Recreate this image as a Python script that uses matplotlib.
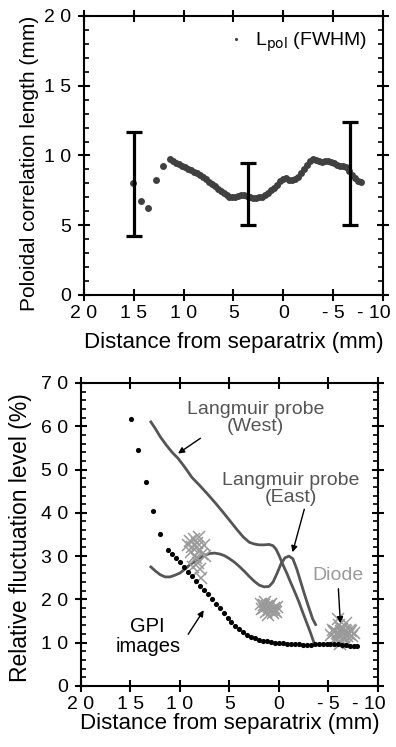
import matplotlib
matplotlib.use("Agg")
import matplotlib.pyplot as plt
from matplotlib.ticker import MultipleLocator, FixedLocator
from matplotlib.transforms import ScaledTranslation

plt.rcParams["font.family"] = ["Liberation Sans", "DejaVu Sans"]

# ---- top panel: poloidal correlation length ----
lpol_x = [15.05, 14.3, 13.55, 12.78, 12.04,
          11.4, 11.1, 10.8, 10.5, 10.2, 9.9, 9.6, 9.3, 9.0, 8.7, 8.4, 8.1, 7.8,
          7.5, 7.2, 6.9, 6.6, 6.3, 6.0, 5.7, 5.4, 5.1, 4.8, 4.5, 4.2, 3.9, 3.6,
          3.3, 3.0, 2.7, 2.4, 2.1, 1.8, 1.5, 1.2, 0.9, 0.6, 0.3, 0.0, -0.3, -0.6,
          -0.9, -1.2, -1.5, -1.8, -2.1, -2.4, -2.7, -3.0, -3.3, -3.6, -3.9, -4.2,
          -4.5, -4.8, -5.1, -5.4, -5.7, -6.0, -6.3, -6.6, -6.9, -7.2, -7.5, -7.8]
lpol_y = [8.0, 6.74, 6.26, 8.22, 9.22,
          9.72, 9.60, 9.48, 9.36, 9.26, 9.15, 9.05, 8.95, 8.84, 8.72, 8.58, 8.44,
          8.30, 8.13, 7.96, 7.78, 7.60, 7.45, 7.30, 7.17, 7.05, 7.00, 7.02, 7.10,
          7.16, 7.18, 7.12, 7.00, 6.94, 6.98, 7.02, 7.05, 7.15, 7.30, 7.50, 7.70,
          7.92, 8.15, 8.35, 8.40, 8.25, 8.22, 8.30, 8.45, 8.75, 9.05, 9.35, 9.60,
          9.72, 9.68, 9.58, 9.55, 9.60, 9.58, 9.55, 9.45, 9.32, 9.28, 9.25, 9.15,
          8.90, 8.62, 8.40, 8.20, 8.10]

err_x = [15.0, 3.5, -6.7]
err_lo = [4.2, 5.0, 5.0]
err_hi = [11.7, 9.45, 12.4]

# ---- bottom panel: relative fluctuation level ----
gpi_x = [14.96, 14.22, 13.48, 12.71, 11.97, 11.2,
         10.8, 10.4, 10.0, 9.6, 9.2, 8.8, 8.4, 8.0, 7.6, 7.2, 6.8, 6.4, 6.0, 5.6,
         5.2, 4.8, 4.4, 4.0, 3.6, 3.2, 2.8, 2.4, 2.0, 1.6, 1.2, 0.8, 0.4, 0.0,
         -0.4, -0.8, -1.2, -1.6, -2.0, -2.4, -2.8, -3.2, -3.6, -4.0, -4.4, -4.8,
         -5.2, -5.6, -6.0, -6.4, -6.8, -7.2, -7.6, -7.9]
gpi_y = [61.6, 54.6, 47.1, 40.4, 35.2, 31.3,
         30.4, 29.6, 28.6, 27.5, 26.4, 25.3, 24.2, 23.2, 22.2, 21.2, 20.1, 19.0,
         17.9, 16.8, 15.8, 14.8, 13.9, 13.1, 12.4, 11.8, 11.3, 11.0, 10.7, 10.5,
         10.3, 10.1, 10.0, 9.9, 9.9, 9.8, 9.8, 9.7, 9.6, 9.5, 9.4, 9.5, 9.6, 9.6,
         9.7, 9.8, 9.8, 9.7, 9.6, 9.5, 9.4, 9.3, 9.2, 9.2]

west_x = [12.94, 12.5, 12.0, 11.4, 10.8, 10.2, 9.5, 8.8, 8.0, 7.2, 6.4, 5.6,
          4.9, 4.2, 3.6, 3.0, 2.5, 2.0, 1.5, 1.0, 0.6, 0.3, 0.0, -0.4, -0.8,
          -1.2, -1.6, -2.0, -2.4, -2.8, -3.2, -3.5]
west_y = [61.0, 59.5, 57.6, 55.7, 54.0, 52.6, 50.5, 48.2, 46.3, 44.3, 42.2,
          40.0, 38.0, 36.0, 34.4, 33.2, 32.8, 32.6, 32.6, 32.7, 32.4, 31.6,
          30.2, 28.0, 26.0, 23.8, 21.7, 19.5, 17.0, 14.6, 12.2, 10.2]

east_x = [12.94, 12.5, 12.0, 11.5, 11.0, 10.5, 10.0, 9.5, 9.0, 8.5, 8.0, 7.5,
          7.0, 6.5, 6.0, 5.5, 5.0, 4.5, 4.0, 3.5, 3.0, 2.5, 2.0, 1.5, 1.0, 0.6,
          0.2, -0.2, -0.6, -1.0, -1.4, -1.8, -2.2, -2.6, -3.0, -3.4, -3.7]
east_y = [27.5, 26.6, 25.7, 25.2, 25.2, 25.6, 26.1, 27.0, 28.0, 28.8, 29.6,
          30.2, 30.6, 30.7, 30.5, 30.1, 29.4, 28.6, 27.6, 26.5, 25.3, 24.2,
          23.3, 22.9, 23.0, 24.0, 26.0, 28.2, 29.6, 30.0, 29.4, 27.0, 24.0,
          21.0, 18.2, 15.5, 14.2]

diode_x = [9.0, 8.6, 8.8, 8.3, 8.0, 7.8, 8.5, 7.6, 8.2, 8.7, 8.0, 7.9, 8.4,
           9.2, 7.5, 8.1, 8.9, 8.3,
           1.8, 1.5, 1.2, 1.0, 0.8, 1.4, 0.5, 0.3, 1.1, 1.7, 0.9, 0.6, 0.2, 1.3,
           1.0, 0.7, 1.5, 0.4,
           -5.5, -6.0, -6.3, -6.6, -6.9, -7.2, -5.8, -6.4, -6.8, -7.4, -6.1,
           -5.3, -6.5, -7.0, -6.2, -5.7, -6.7, -7.6, -6.0, -6.3, -6.6, -5.9,
           -7.1, -6.4, -6.8, -6.2, -5.6, -7.3]
diode_y = [33.5, 34.0, 32.0, 33.0, 31.5, 30.5, 30.0, 32.5, 28.5, 27.5, 27.0,
           25.0, 29.5, 32.5, 30.0, 34.5, 31.0, 32.2,
           19.0, 18.0, 18.5, 17.5, 19.0, 19.5, 18.0, 17.0, 16.5, 17.8, 18.8,
           16.8, 18.3, 17.0, 18.2, 17.6, 18.6, 17.4,
           13.0, 12.0, 13.5, 12.5, 11.5, 13.0, 11.0, 10.5, 14.5, 11.5, 14.0,
           11.8, 12.0, 10.0, 9.8, 12.8, 13.0, 12.3, 15.5, 12.6, 11.2, 12.2,
           12.0, 13.2, 12.8, 11.6, 12.4, 12.7]

x_ticks = [20, 15, 10, 5, 0, -5, -10]
x_ticklabels = ["2 0", "1 5", "1 0", "5", "0", "- 5", "- 10"]
LINE_GRAY = "#555555"
DIODE_GRAY = "#9a9a9a"


def spaced(v):
    # the original tick labels are set with wide letter spacing
    return " ".join(str(v))


def style_axes(fig, ax, yticks, yminor, xlabelpad):
    ax.set_xlim(20, -10)
    ax.xaxis.set_major_locator(FixedLocator(x_ticks))
    ax.set_xticklabels(x_ticklabels)
    ax.set_yticks(yticks)
    ax.set_yticklabels([spaced(t) for t in yticks])
    ax.yaxis.set_minor_locator(MultipleLocator(yminor))
    ax.tick_params(which="major", direction="inout", length=9, width=1.5,
                   top=True, right=True, labelsize=14)
    ax.tick_params(axis="x", which="major", pad=3)
    ax.tick_params(axis="y", which="major", pad=5)
    ax.tick_params(which="minor", direction="in", length=3.5, width=1.2,
                   left=True, right=True)
    for s in ax.spines.values():
        s.set_linewidth(1.5)
    ax.set_xlabel("Distance from separatrix (mm)", fontsize=16,
                  labelpad=xlabelpad)
    # last label sits a little left of its tick so it stays inside the page
    lab = ax.xaxis.get_major_ticks()[-1].label1
    lab.set_transform(lab.get_transform()
                      + ScaledTranslation(-9 / 100, 0, fig.dpi_scale_trans))


fig = plt.figure(figsize=(3.96, 7.47), dpi=100)
ax1 = fig.add_axes([0.2121, 0.6051, 0.755, 0.3735])
ax2 = fig.add_axes([0.2045, 0.0817, 0.75, 0.4056])

# top panel
ax1.plot(lpol_x, lpol_y, "o", color="#404040", ms=5.0, mec="none",
         label=r"L$_{\mathrm{pol}}$ (FWHM)")
err_mid = [(lo + hi) / 2 for lo, hi in zip(err_lo, err_hi)]
err_half = [(hi - lo) / 2 for lo, hi in zip(err_lo, err_hi)]
ax1.errorbar(err_x, err_mid, yerr=err_half, fmt="none", ecolor="black",
             elinewidth=2.3, capsize=5.5, capthick=2.3)
ax1.set_ylim(0, 20)
style_axes(fig, ax1, [0, 5, 10, 15, 20], 1, 7)
ax1.set_ylabel("Poloidal correlation length (mm)", fontsize=15)
ax1.yaxis.set_label_coords(-0.15, 0.47)
ax1.legend(loc="upper right", frameon=False, fontsize=14, markerscale=0.45,
           handlelength=0.8, handletextpad=0.6, borderaxespad=0,
           bbox_to_anchor=(0.975, 0.975))

# bottom panel
ax2.plot(west_x, west_y, color=LINE_GRAY, lw=2)
ax2.plot(east_x, east_y, color=LINE_GRAY, lw=2)
ax2.plot(diode_x, diode_y, "x", color=DIODE_GRAY, ms=8, mew=1.1)
ax2.plot(gpi_x, gpi_y, "o", color="black", ms=3.7, mec="none")
ax2.set_ylim(0, 70)
style_axes(fig, ax2, [0, 10, 20, 30, 40, 50, 60, 70], 2, 0)
ax2.set_ylabel("Relative fluctuation level (%)", fontsize=16.5)
ax2.yaxis.set_label_coords(-0.165, 0.49)

arrow = dict(arrowstyle="-|>", color="black", lw=1, mutation_scale=9,
             shrinkA=0, shrinkB=0)
ax2.annotate("Langmuir probe\n(West)", xy=(10.2, 53.7), xytext=(2.4, 61.8),
             ha="center", va="center", fontsize=14, color=LINE_GRAY,
             linespacing=1.0, arrowprops=dict(arrow, relpos=(0.24, 0.3)))
ax2.annotate("Langmuir probe\n(East)", xy=(-1.37, 30.9), xytext=(-1.2, 45.4),
             ha="center", va="center", fontsize=14, color=LINE_GRAY,
             linespacing=1.0, arrowprops=dict(arrow, relpos=(0.6, -0.05)))
ax2.annotate("Diode", xy=(-6.2, 14.5), xytext=(-6.0, 25.6),
             ha="center", va="center", fontsize=14, color=DIODE_GRAY,
             arrowprops=dict(arrow, relpos=(0.5, -0.3)))
ax2.annotate("GPI\nimages", xy=(7.6, 17.5), xytext=(13.25, 11.5),
             ha="center", va="center", fontsize=14.5, color="black",
             linespacing=1.05, arrowprops=dict(arrow, relpos=(1.12, 0.55)))

fig.savefig("out.png", dpi=100)
